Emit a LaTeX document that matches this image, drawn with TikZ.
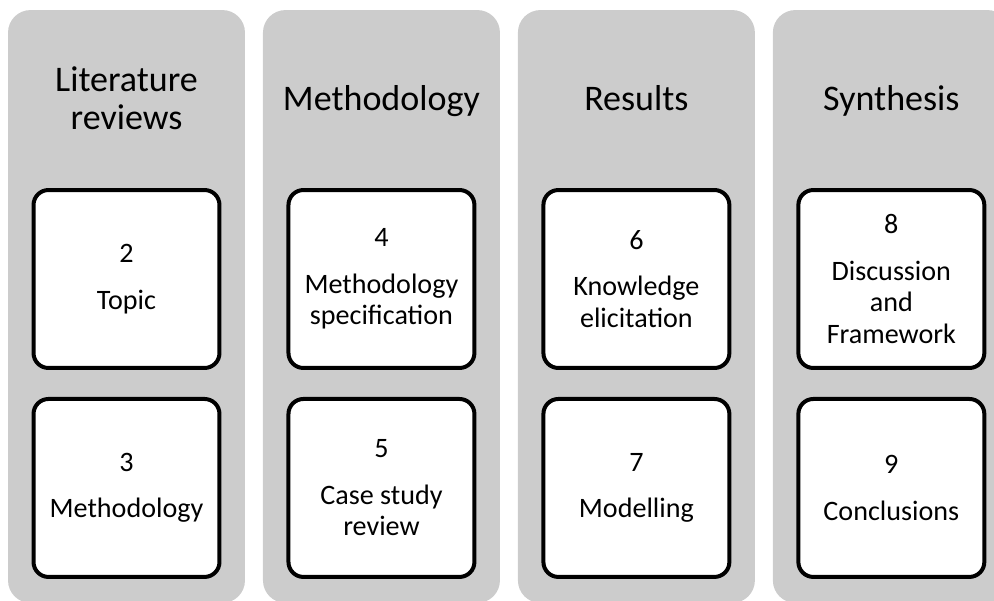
\documentclass[tikz,border=0pt]{standalone}
\usepackage{fontspec}
\setmainfont{Carlito}
\usepackage{tikz}
\usepackage{xcolor}
\usetikzlibrary{positioning}

\definecolor{phasegray}{RGB}{204,204,204}

\tikzset{
  phase/.style={fill=phasegray, rounded corners=0.45cm, inner sep=0, outer sep=0,
    minimum width=4.74cm, minimum height=11.86cm},
  phasetitle/.style={align=center, inner sep=0, text depth=0.25em,
    font=\fontsize{20.5}{21.5}\selectfont},
  chapter/.style={draw=black, fill=white, line width=0.08cm, rounded corners=0.3cm,
    minimum width=3.72cm, minimum height=3.56cm, inner sep=0, align=center,
    font=\fontsize{16}{18}\selectfont}
}

\begin{document}
\begin{tikzpicture}[x=0.02cm, y=-0.02cm]
\useasboundingbox (0,0) rectangle (994,601);

\node[phase] (lit) at (126.5,306.5) {};
\node[phase, right=0.36cm of lit] (meth) {};
\node[phase, right=0.36cm of meth] (res) {};
\node[phase, right=0.36cm of res] (syn) {};

\node[phasetitle] (litT) at ([yshift=-1.8cm]lit.north) {Literature\\reviews};
\node[phasetitle] (methT) at ([yshift=-1.8cm]meth.north) {Methodology};
\node[phasetitle] (resT) at ([yshift=-1.8cm]res.north) {Results};
\node[phasetitle] (synT) at ([yshift=-1.8cm]syn.north) {Synthesis};

\node[chapter, below=3.56cm of lit.north] (ch2) {2\\[8.5pt]Topic};
\node[chapter, below=0.54cm of ch2] (ch3) {3\\[8.5pt]Methodology};
\node[chapter, below=3.56cm of meth.north] (ch4) {4\\[8.5pt]Methodology\\specification};
\node[chapter, below=0.54cm of ch4] (ch5) {5\\[8.5pt]Case study\\review};
\node[chapter, below=3.56cm of res.north] (ch6) {6\\[8.5pt]Knowledge\\elicitation};
\node[chapter, below=0.54cm of ch6] (ch7) {7\\[8.5pt]Modelling};
\node[chapter, below=3.56cm of syn.north] (ch8) {8\\[8.5pt]Discussion\\and\\Framework};
\node[chapter, below=0.54cm of ch8] (ch9) {9\\[8.5pt]Conclusions};
\end{tikzpicture}
\end{document}
